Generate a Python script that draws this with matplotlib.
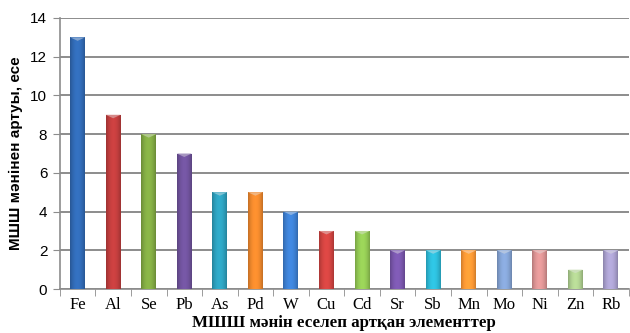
import numpy as np
import matplotlib
matplotlib.use("Agg")
import matplotlib.pyplot as plt
from matplotlib.colors import to_rgb

elements = ["Fe", "Al", "Se", "Pb", "As", "Pd", "W", "Cu", "Cd",
            "Sr", "Sb", "Mn", "Mo", "Ni", "Zn", "Rb"]
excess = [13, 9, 8, 7, 5, 5, 4, 3, 3, 2, 2, 2, 2, 2, 1, 2]
colors = ["#2F66AE", "#B93B3B", "#7DA441", "#6B4F96", "#2B9AB6", "#E6832B",
          "#3B7BCB", "#C9413E", "#8DC151", "#7553A6", "#2BB3CF", "#F39333",
          "#7F9DCC", "#D48E8E", "#A9C98B", "#A49BC8"]
yticks = [0, 2, 4, 6, 8, 10, 12, 14]

fig = plt.figure(figsize=(6.3, 3.33), dpi=100)
ax = fig.add_axes([0.095, 0.132, 0.903, 0.814])

x = np.arange(len(elements))
width = 0.42
bars = ax.bar(x, excess, width=width, color=colors, zorder=3)

# cylinder-style horizontal shading on each bar
prof = np.linspace(-1, 1, 64)
light = 1.0 - 0.55 * prof**2
for b, c in zip(bars, colors):
    base = np.array(to_rgb(c))
    shade = np.clip(base[None, :] * (0.62 + 0.5 * light[:, None]), 0, 1)
    img = shade[None, :, :]
    x0, w, h = b.get_x(), b.get_width(), b.get_height()
    im = ax.imshow(img, extent=[x0, x0 + w, 0, h], aspect="auto",
                   zorder=4, interpolation="bilinear")
    im.set_clip_path(b)
    # lighter cap at the top of each bar
    cap_h = 0.18
    top = np.clip(base * 0.6 + 0.4, 0, 1)
    ax.fill([x0, x0 + w, x0 + w * 0.5], [h, h, h - cap_h], color=top,
            zorder=5, lw=0)

ax.set_xlim(-0.5, len(elements) - 0.5)
ax.set_ylim(0, 14)
ax.set_yticks(yticks)
ax.set_yticklabels([str(v) for v in yticks], family="Liberation Sans",
                   fontsize=11)
ax.yaxis.grid(True, color="#8C8C8C", lw=1.4, zorder=0)
ax.set_axisbelow(True)

ax.set_xticks(x)
ax.set_xticklabels(elements, family="Liberation Serif", fontsize=12)
ax.tick_params(axis="x", length=0, pad=6)
ax.set_xticks(np.arange(-0.5, len(elements), 1.0), minor=True)
ax.tick_params(axis="x", which="minor", length=5, color="#8C8C8C",
               direction="out")
ax.tick_params(axis="y", length=5, color="#8C8C8C", pad=4)

for s in ["top", "right"]:
    ax.spines[s].set_visible(False)
for s in ["left", "bottom"]:
    ax.spines[s].set_color("#8C8C8C")
    ax.spines[s].set_linewidth(1.2)

ax.set_ylabel("МШШ мәнінен артуы, есе", family="Liberation Sans",
              fontweight="bold", fontsize=11, labelpad=5)
ax.set_xlabel("МШШ мәнін еселеп артқан элементтер", family="Liberation Serif",
              fontweight="bold", fontsize=12.2, labelpad=1)

fig.savefig("out.png", dpi=100)
